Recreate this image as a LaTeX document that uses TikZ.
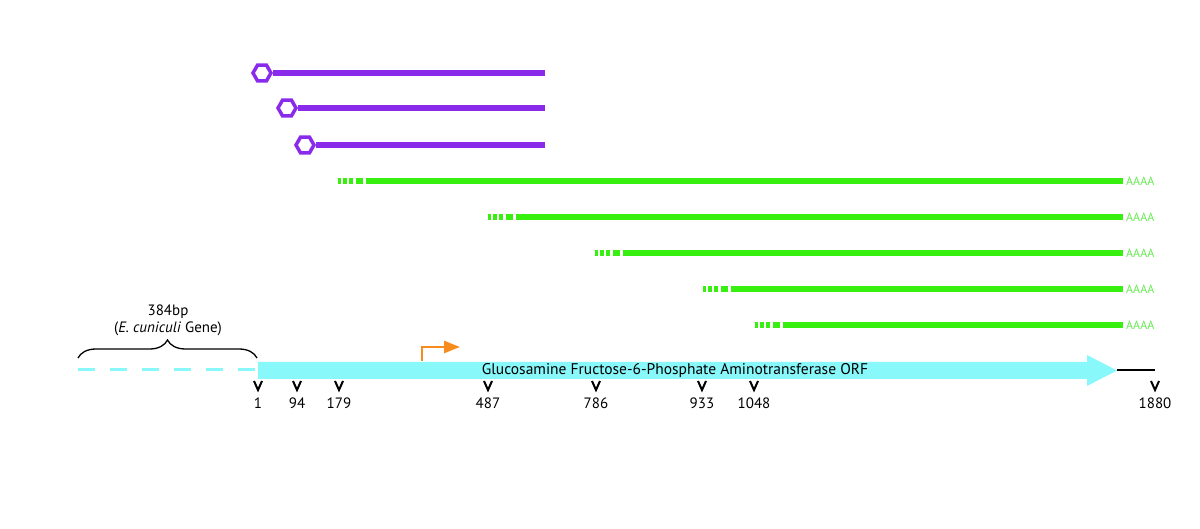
\documentclass[tikz,border=0pt]{standalone}
\usepackage{fontspec}
\setmainfont{PT Sans}
\usetikzlibrary{shapes.geometric,decorations.pathreplacing,arrows.meta}
\definecolor{cappurple}{RGB}{138,43,235}
\definecolor{polyA}{RGB}{55,240,15}
\definecolor{polyAtxt}{RGB}{100,235,80}
\definecolor{orfcyan}{RGB}{136,248,250}
\definecolor{tssorange}{RGB}{247,140,30}
\tikzset{
  capline/.style={cappurple,line width=6pt},
  caphex/.style={regular polygon,regular polygon sides=6,draw=cappurple,line width=3.5pt,minimum size=18pt,inner sep=0pt,fill=white},
  txline/.style={polyA,line width=6pt},
  txdash/.style={polyA,line width=6pt,dash pattern=on 2.5pt off 2pt on 4pt off 2pt on 4.5pt off 3pt on 7pt off 100pt},
  aaaa/.style={text=polyAtxt,font=\fontsize{12}{14}\selectfont,anchor=west,inner sep=0pt},
  vmark/.style={line width=2pt,black},
  poslabel/.style={font=\fontsize{15}{17}\selectfont,inner sep=0pt},
}
\begin{document}
\begin{tikzpicture}[x=1pt,y=-1pt]
\useasboundingbox (0,0) rectangle (1200,529);
% 5' capped transcripts
\foreach \i/\hx/\yy in {1/262/73,2/287/108,3/305/145}{
  \coordinate (ce\i) at (545,\yy);
  \node[caphex] (cap\i) at (\hx,\yy) {};
  \draw[capline] (cap\i.east) -- (ce\i);
}
% polyadenylated transcripts
\foreach \i/\xs/\yy in {1/338/181,2/488/217,3/595/253,4/703/289,5/755/325}{
  \coordinate (ts\i) at (\xs,\yy);
  \coordinate (tm\i) at (\xs+28,\yy);
  \coordinate (te\i) at (1123,\yy);
  \draw[txdash] (ts\i) -- (tm\i);
  \draw[txline] (tm\i) -- (te\i);
  \node[aaaa] (pa\i) at (1126,\yy) {AAAA};
}
% upstream E. cuniculi gene
\coordinate (ups) at (78,370);
\coordinate (orfs) at (256,370);
\draw[orfcyan,line width=3pt,dash pattern=on 17pt off 15pt] (ups) -- (orfs);
\draw[line width=1.3pt,decorate,decoration={brace,amplitude=18pt}] (78,358) -- (257,358);
\node[font=\fontsize{15}{17}\selectfont,align=center] (ecu) at (168,320) {384bp\\(\textit{E. cuniculi} Gene)};
% ORF arrow
\fill[orfcyan] (258,362) -- (1087,362) -- (1087,355) -- (1117,370.5) -- (1087,386) -- (1087,379) -- (258,379) -- cycle;
\coordinate (orftip) at (1117,370.5);
\coordinate (utr) at (1155,370.5);
\draw[line width=2pt] (orftip) -- (utr);
\node[font=\fontsize{15.5}{17}\selectfont,inner sep=0pt] (orf) at (675,370.5) {Glucosamine Fructose-6-Phosphate Aminotransferase ORF};
% transcription start
\coordinate (tss0) at (422,361);
\coordinate (tss1) at (422,347);
\coordinate (tss2) at (460,347);
\draw[tssorange,line width=2.5pt,-{Triangle[length=16pt,width=12pt]}] (tss0) -- (tss1) -- (tss2);
% positions
\foreach \x/\lab in {258/1,297/94,339/179,488/487,596/786,702/933,754/1048,1155/1880}{
  \draw[vmark] (\x-4,381) -- (\x,390) -- (\x+4,381);
  \node[poslabel] (p\lab) at (\x,403) {\lab};
}
\end{tikzpicture}
\end{document}
